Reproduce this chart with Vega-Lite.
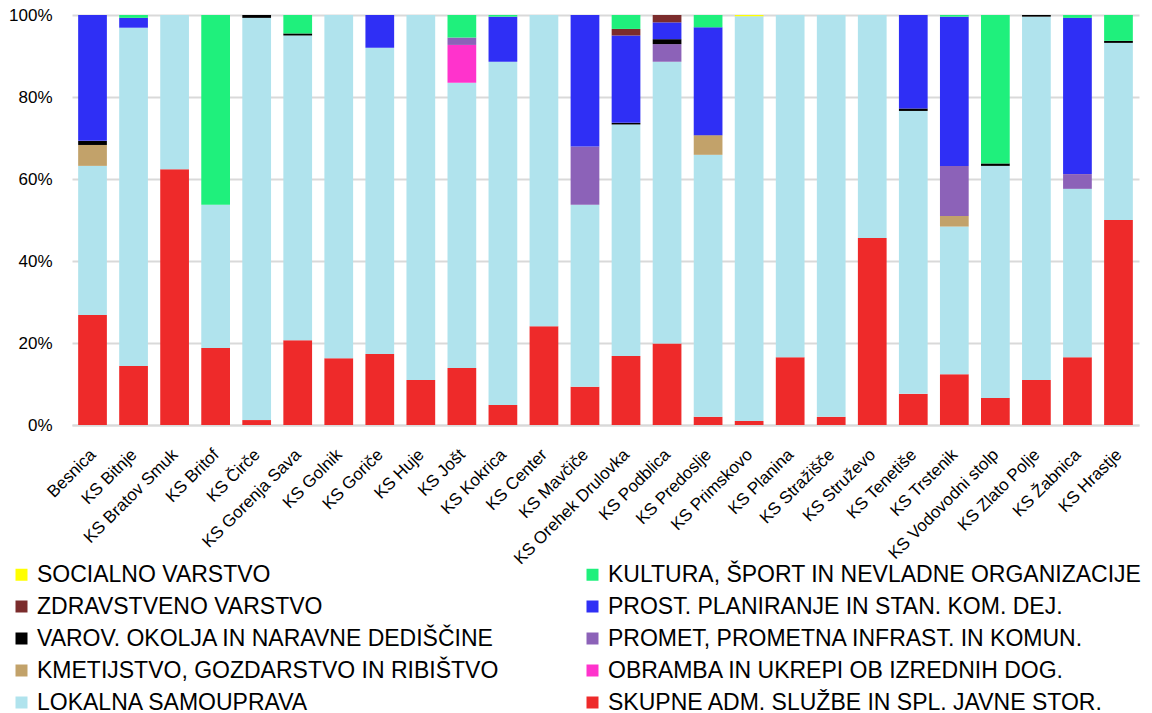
{
 "$schema": "https://vega.github.io/schema/vega-lite/v6.json",
 "width": 1067,
 "height": 410,
 "autosize": {"type": "none"},
 "padding": {"left": 72, "top": 15, "right": 13, "bottom": 288},
 "background": "white",
 "config": {"font": "Liberation Sans", "view": {"stroke": null}},
 "datasets": {
  "cats": [
   {"id": "sk", "c": "SKUPNE ADM. SLUŽBE IN SPL. JAVNE STOR.", "r": 1},
   {"id": "lo", "c": "LOKALNA SAMOUPRAVA", "r": 2},
   {"id": "km", "c": "KMETIJSTVO, GOZDARSTVO IN RIBIŠTVO", "r": 3},
   {"id": "ob", "c": "OBRAMBA IN UKREPI OB IZREDNIH DOG.", "r": 4},
   {"id": "pm", "c": "PROMET, PROMETNA INFRAST. IN KOMUN.", "r": 5},
   {"id": "va", "c": "VAROV. OKOLJA IN NARAVNE DEDIŠČINE", "r": 6},
   {"id": "pr", "c": "PROST. PLANIRANJE IN STAN. KOM. DEJ.", "r": 7},
   {"id": "zd", "c": "ZDRAVSTVENO VARSTVO", "r": 8},
   {"id": "so", "c": "SOCIALNO VARSTVO", "r": 9},
   {"id": "ku", "c": "KULTURA, ŠPORT IN NEVLADNE ORGANIZACIJE", "r": 10}
  ]
 },
 "data": {"values": [
  {"k": "Besnica", "id": "sk", "v": 26.8},
  {"k": "Besnica", "id": "lo", "v": 36.4},
  {"k": "Besnica", "id": "km", "v": 5.1},
  {"k": "Besnica", "id": "va", "v": 1.0},
  {"k": "Besnica", "id": "pr", "v": 30.7},
  {"k": "KS Bitnje", "id": "sk", "v": 14.4},
  {"k": "KS Bitnje", "id": "lo", "v": 82.5},
  {"k": "KS Bitnje", "id": "pr", "v": 2.4},
  {"k": "KS Bitnje", "id": "ku", "v": 0.7},
  {"k": "KS Bratov Smuk", "id": "sk", "v": 62.4},
  {"k": "KS Bratov Smuk", "id": "lo", "v": 37.6},
  {"k": "KS Britof", "id": "sk", "v": 18.8},
  {"k": "KS Britof", "id": "lo", "v": 34.9},
  {"k": "KS Britof", "id": "ku", "v": 46.3},
  {"k": "KS Čirče", "id": "sk", "v": 1.2},
  {"k": "KS Čirče", "id": "lo", "v": 98.1},
  {"k": "KS Čirče", "id": "va", "v": 0.7},
  {"k": "KS Gorenja Sava", "id": "sk", "v": 20.7},
  {"k": "KS Gorenja Sava", "id": "lo", "v": 74.3},
  {"k": "KS Gorenja Sava", "id": "va", "v": 0.5},
  {"k": "KS Gorenja Sava", "id": "ku", "v": 4.5},
  {"k": "KS Golnik", "id": "sk", "v": 16.3},
  {"k": "KS Golnik", "id": "lo", "v": 83.7},
  {"k": "KS Goriče", "id": "sk", "v": 17.3},
  {"k": "KS Goriče", "id": "lo", "v": 74.7},
  {"k": "KS Goriče", "id": "pr", "v": 8.0},
  {"k": "KS Huje", "id": "sk", "v": 11.0},
  {"k": "KS Huje", "id": "lo", "v": 89.0},
  {"k": "KS Jošt", "id": "sk", "v": 13.9},
  {"k": "KS Jošt", "id": "lo", "v": 69.6},
  {"k": "KS Jošt", "id": "ob", "v": 9.2},
  {"k": "KS Jošt", "id": "pm", "v": 1.8},
  {"k": "KS Jošt", "id": "ku", "v": 5.5},
  {"k": "KS Kokrica", "id": "sk", "v": 4.9},
  {"k": "KS Kokrica", "id": "lo", "v": 83.7},
  {"k": "KS Kokrica", "id": "pr", "v": 11.0},
  {"k": "KS Kokrica", "id": "ku", "v": 0.4},
  {"k": "KS Center", "id": "sk", "v": 24.1},
  {"k": "KS Center", "id": "lo", "v": 75.9},
  {"k": "KS Mavčiče", "id": "sk", "v": 9.3},
  {"k": "KS Mavčiče", "id": "lo", "v": 44.4},
  {"k": "KS Mavčiče", "id": "pm", "v": 14.2},
  {"k": "KS Mavčiče", "id": "pr", "v": 32.1},
  {"k": "KS Orehek Drulovka", "id": "sk", "v": 16.8},
  {"k": "KS Orehek Drulovka", "id": "lo", "v": 56.5},
  {"k": "KS Orehek Drulovka", "id": "va", "v": 0.4},
  {"k": "KS Orehek Drulovka", "id": "pr", "v": 21.3},
  {"k": "KS Orehek Drulovka", "id": "zd", "v": 1.6},
  {"k": "KS Orehek Drulovka", "id": "ku", "v": 3.4},
  {"k": "KS Podblica", "id": "sk", "v": 19.9},
  {"k": "KS Podblica", "id": "lo", "v": 68.7},
  {"k": "KS Podblica", "id": "pm", "v": 4.3},
  {"k": "KS Podblica", "id": "va", "v": 1.2},
  {"k": "KS Podblica", "id": "pr", "v": 4.1},
  {"k": "KS Podblica", "id": "zd", "v": 1.8},
  {"k": "KS Predoslje", "id": "sk", "v": 2.0},
  {"k": "KS Predoslje", "id": "lo", "v": 63.9},
  {"k": "KS Predoslje", "id": "km", "v": 4.8},
  {"k": "KS Predoslje", "id": "pr", "v": 26.3},
  {"k": "KS Predoslje", "id": "ku", "v": 3.0},
  {"k": "KS Primskovo", "id": "sk", "v": 1.0},
  {"k": "KS Primskovo", "id": "lo", "v": 98.7},
  {"k": "KS Primskovo", "id": "so", "v": 0.3},
  {"k": "KS Planina", "id": "sk", "v": 16.5},
  {"k": "KS Planina", "id": "lo", "v": 83.5},
  {"k": "KS Stražišče", "id": "sk", "v": 2.0},
  {"k": "KS Stražišče", "id": "lo", "v": 98.0},
  {"k": "KS Struževo", "id": "sk", "v": 45.6},
  {"k": "KS Struževo", "id": "lo", "v": 54.4},
  {"k": "KS Tenetiše", "id": "sk", "v": 7.6},
  {"k": "KS Tenetiše", "id": "lo", "v": 69.0},
  {"k": "KS Tenetiše", "id": "va", "v": 0.6},
  {"k": "KS Tenetiše", "id": "pr", "v": 22.8},
  {"k": "KS Trstenik", "id": "sk", "v": 12.4},
  {"k": "KS Trstenik", "id": "lo", "v": 36.0},
  {"k": "KS Trstenik", "id": "km", "v": 2.6},
  {"k": "KS Trstenik", "id": "pm", "v": 12.2},
  {"k": "KS Trstenik", "id": "pr", "v": 36.4},
  {"k": "KS Trstenik", "id": "ku", "v": 0.4},
  {"k": "KS Vodovodni stolp", "id": "sk", "v": 6.6},
  {"k": "KS Vodovodni stolp", "id": "lo", "v": 56.6},
  {"k": "KS Vodovodni stolp", "id": "va", "v": 0.6},
  {"k": "KS Vodovodni stolp", "id": "ku", "v": 36.2},
  {"k": "KS Zlato Polje", "id": "sk", "v": 11.0},
  {"k": "KS Zlato Polje", "id": "lo", "v": 88.6},
  {"k": "KS Zlato Polje", "id": "va", "v": 0.4},
  {"k": "KS Žabnica", "id": "sk", "v": 16.5},
  {"k": "KS Žabnica", "id": "lo", "v": 41.1},
  {"k": "KS Žabnica", "id": "pm", "v": 3.6},
  {"k": "KS Žabnica", "id": "pr", "v": 38.1},
  {"k": "KS Žabnica", "id": "ku", "v": 0.7},
  {"k": "KS Hrastje", "id": "sk", "v": 50.0},
  {"k": "KS Hrastje", "id": "lo", "v": 43.2},
  {"k": "KS Hrastje", "id": "va", "v": 0.5},
  {"k": "KS Hrastje", "id": "ku", "v": 6.3}
 ]},
 "transform": [
  {"lookup": "id", "from": {"data": {"name": "cats"}, "key": "id", "fields": ["c", "r"]}}
 ],
 "mark": {"type": "bar"},
 "encoding": {
  "x": {
   "field": "k", "type": "nominal", "sort": null,
   "scale": {"paddingInner": 0.3, "paddingOuter": 0.15},
   "axis": {"title": null, "labelAngle": -45, "labelBaseline": "top", "labelFontSize": 17, "labelColor": "black", "ticks": false, "domainColor": "#d9d9d9", "domainWidth": 2, "labelPadding": 21, "labelOffset": -5, "labelLimit": 300}
  },
  "y": {
   "field": "v", "type": "quantitative", "stack": "normalize",
   "scale": {"domain": [0, 1]},
   "axis": {"title": null, "format": ".0%", "values": [0, 0.2, 0.4, 0.6, 0.8, 1], "domain": false, "ticks": false, "labelFontSize": 17, "labelColor": "black", "labelPadding": 20, "grid": true, "gridColor": "#d9d9d9", "gridWidth": 2}
  },
  "color": {
   "field": "c", "type": "nominal",
   "scale": {
    "domain": ["SOCIALNO VARSTVO", "ZDRAVSTVENO VARSTVO", "VAROV. OKOLJA IN NARAVNE DEDIŠČINE", "KMETIJSTVO, GOZDARSTVO IN RIBIŠTVO", "LOKALNA SAMOUPRAVA", "KULTURA, ŠPORT IN NEVLADNE ORGANIZACIJE", "PROST. PLANIRANJE IN STAN. KOM. DEJ.", "PROMET, PROMETNA INFRAST. IN KOMUN.", "OBRAMBA IN UKREPI OB IZREDNIH DOG.", "SKUPNE ADM. SLUŽBE IN SPL. JAVNE STOR."],
    "range": ["#ffff00", "#7b2c2c", "#000000", "#c2a26a", "#b0e3ed", "#1ff07c", "#2f2ff5", "#8c62b8", "#ff33cc", "#ee2a2a"]
   },
   "legend": {"title": null, "orient": "none", "legendX": -62, "legendY": 548, "columns": 2, "symbolType": "square", "symbolSize": 144, "symbolStrokeWidth": 0, "labelFontSize": 23, "labelColor": "black", "labelOffset": 4, "rowPadding": 8, "columnPadding": 82, "labelLimit": 700, "gridAlign": "each", "padding": 0}
  },
  "order": {"field": "r", "type": "quantitative"}
 }
}
